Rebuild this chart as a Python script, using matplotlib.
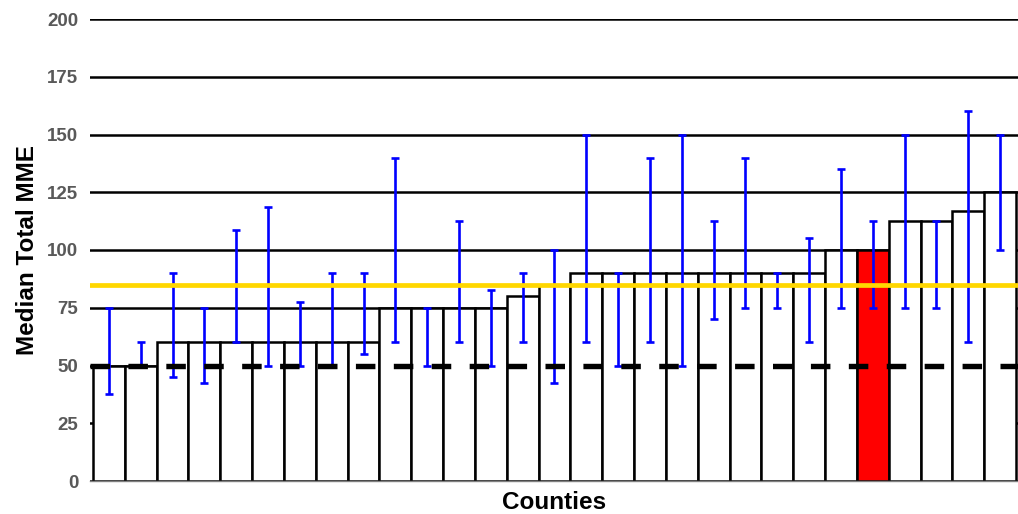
import numpy as np
import matplotlib
matplotlib.use("Agg")
import matplotlib.pyplot as plt

# median total MME per county, sorted
medians = [50, 50, 60, 60, 60, 60, 60, 60, 60, 75, 75, 75, 75, 80, 85,
           90, 90, 90, 90, 90, 90, 90, 90, 100, 100, 112.5, 112.5, 116.7, 125]
lows = [37.5, 50, 45, 42.5, 60, 50, 50, 50, 55, 60, 50, 60, 50, 60, 42.5,
        60, 50, 60, 50, 70, 75, 75, 60, 75, 75, 75, 75, 60, 100]
highs = [75, 60, 90, 75, 108.5, 118.5, 77.5, 90, 90, 140, 75, 112.5, 82.5, 90, 100,
         150, 90, 140, 150, 112.5, 140, 90, 105, 135, 112.5, 150, 112.5, 160, 150]
highlight = 24  # the county of interest
state_median = 85
reference = 50

plt.rcParams['font.family'] = ['Liberation Sans', 'DejaVu Sans']

fig = plt.figure(figsize=(10.18, 5.14), dpi=100)
ax = fig.add_axes([90 / 1018, 33 / 514, 928 / 1018, 462 / 514])

x = np.arange(len(medians))
colors = ['white'] * len(medians)
colors[highlight] = '#ff0000'

ax.bar(x, medians, width=1.0, color=colors, edgecolor='black', linewidth=1.8, zorder=2)

med = np.array(medians)
yerr = [med - np.array(lows), np.array(highs) - med]
ax.errorbar(x, medians, yerr=yerr, fmt='none', ecolor='#0000ff',
            elinewidth=1.9, capsize=2.8, capthick=1.9, zorder=3)

ax.axhline(state_median, color='#ffd700', linewidth=3.4, zorder=4)
ax.axhline(reference, color='black', linewidth=3.9, dashes=(3.6, 3.4), zorder=5)

ax.set_xlim(-0.594, 28.563)
ax.set_ylim(0, 200)
ax.set_yticks(range(0, 201, 25))
ax.set_xticks([])
ax.yaxis.grid(True, color='black', linewidth=1.8)
ax.set_axisbelow(True)

for side in ['top', 'right', 'left']:
    ax.spines[side].set_visible(False)
ax.spines['bottom'].set_color('#808080')
ax.spines['bottom'].set_linewidth(1)

ax.tick_params(axis='y', length=0, pad=8.5, labelsize=13.5, labelcolor='#595959')
for lbl in ax.get_yticklabels():
    lbl.set_fontweight('bold')

ax.set_ylabel('Median Total MME', fontsize=17.5, fontweight='bold', labelpad=6)
ax.set_xlabel('Counties', fontsize=17.5, fontweight='bold', labelpad=7.5)

fig.savefig('out.png', dpi=100)
